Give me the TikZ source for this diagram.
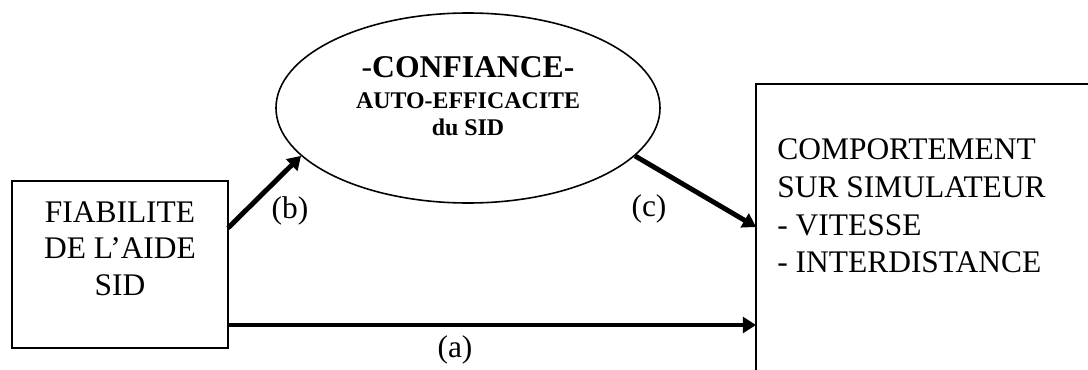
\documentclass[tikz,border=0pt]{standalone}
\usepackage{fontspec}
\setmainfont{Liberation Serif}
\usetikzlibrary{arrows.meta,positioning,shapes.geometric}

\begin{document}
\begin{tikzpicture}[>={Triangle[length=7.5pt,width=9pt]},
    box/.style={draw,line width=1.1pt,inner sep=0pt,outer sep=0pt},
    arr/.style={->,line width=2.8pt},
    lab/.style={font=\fontsize{17.9}{20.8}\selectfont,inner sep=0pt}]
    \useasboundingbox (0,0) rectangle (21.76,7.38);
    \clip (0,0) rectangle (21.76,7.38);
    % blocks
    \node[box,minimum width=4.32cm,minimum height=3.34cm] (fiab) at (2.40,2.09) {};
    \node[lab,align=center] (fiabtxt) at (2.40,2.41) {FIABILITE\\DE L’AIDE\\SID};
    \node[box,minimum width=7.38cm,minimum height=6.2cm] (comp) at (18.81,2.6) {};
    \node[lab,align=left,anchor=west,font=\fontsize{17.9}{21.4}\selectfont] (comptxt) at (15.54,3.26)
      {COMPORTEMENT\\SUR SIMULATEUR\\- VITESSE\\- INTERDISTANCE};
    \node[draw,ellipse,line width=.9pt,inner sep=0pt,minimum width=7.68cm,minimum height=3.80cm] (conf) at (9.36,5.22) {};
    \node[lab,anchor=base,font=\fontsize{18}{20}\selectfont] (conf1) at (9.36,5.84) {-\textbf{CONFIANCE-}};
    \node[lab,anchor=base,font=\fontsize{13.6}{15}\selectfont\bfseries] (conf2) at (9.36,5.22) {AUTO-EFFICACITE};
    \node[lab,anchor=base,font=\fontsize{13.6}{15}\selectfont\bfseries] (conf3) at (9.36,4.68) {du SID};
    % links
    \coordinate (aStart) at ([yshift=.46cm]fiab.south east);
    \coordinate (cEnd) at ([yshift=-2.86cm]comp.north west);
    \draw[arr] (aStart) -- (aStart -| comp.west);
    \draw[arr] ([yshift=-.94cm]fiab.north east) -- (conf.196);
    \draw[arr] (conf.344) -- (cEnd);
    \node[lab] (labA) at (9.10,0.38) {(a)};
    \node[lab] (labB) at (5.80,3.16) {(b)};
    \node[lab] (labC) at (12.98,3.20) {(c)};
\end{tikzpicture}
\end{document}
